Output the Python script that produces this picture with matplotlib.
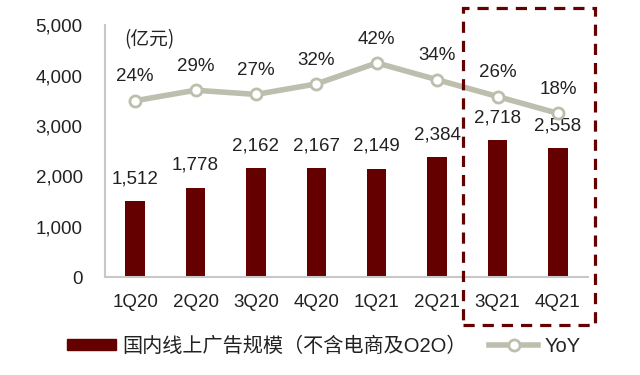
import matplotlib
matplotlib.use("Agg")
import matplotlib.pyplot as plt
from matplotlib.patches import Rectangle
from matplotlib.lines import Line2D
from matplotlib.patches import Patch

plt.rcParams['font.family'] = ['Liberation Sans', 'Noto Sans CJK SC', 'DejaVu Sans']

categories = ["1Q20", "2Q20", "3Q20", "4Q20", "1Q21", "2Q21", "3Q21", "4Q21"]
ad_scale = [1512, 1778, 2162, 2167, 2149, 2384, 2718, 2558]
yoy = [24, 29, 27, 32, 42, 34, 26, 18]
bar_label = "国内线上广告规模（不含电商及O2O）"
line_label = "YoY"
unit_text = "(亿元)"

bar_color = "#640000"
line_color = "#BEBEAE"
fs = 13.5

fig = plt.figure(figsize=(6.4, 3.75), dpi=100)
ax = fig.add_axes([0.164, 0.261, 0.755, 0.672])
x = list(range(len(categories)))
ax.bar(x, ad_scale, width=0.32, color=bar_color, zorder=2)
ax.set_xlim(-0.5, 7.5)
ax.set_ylim(0, 5000)
ax.set_yticks([0, 1000, 2000, 3000, 4000, 5000])
ax.set_yticklabels([f"{v:,}" for v in [0, 1000, 2000, 3000, 4000, 5000]])
ax.set_xticks(x)
ax.set_xticklabels(categories)
ax.tick_params(axis='both', length=0, labelsize=fs, colors='#222222')
ax.tick_params(axis='y', pad=16)
ax.tick_params(axis='x', pad=12)
for s in ['top', 'right']:
    ax.spines[s].set_visible(False)
for s in ['left', 'bottom']:
    ax.spines[s].set_color('#C8C8C8')
    ax.spines[s].set_linewidth(1.5)
for xi, v in zip(x, ad_scale):
    ax.annotate(f"{v:,}", (xi, v), xytext=(0, 10), textcoords='offset points',
                ha='center', va='bottom', fontsize=fs, color='#222222')
ax.text(0.04, 0.985, unit_text, transform=ax.transAxes, fontsize=fs,
        ha='left', va='top', color='#222222',
        family=['Noto Sans CJK SC', 'DejaVu Sans'])

ax2 = ax.twinx()
ax2.set_ylim(-60, 60)
ax2.axis('off')
ax2.plot(x, yoy, color=line_color, linewidth=4, marker='o', markersize=8,
         markerfacecolor='white', markeredgecolor=line_color, markeredgewidth=2, zorder=3)
for xi, v in zip(x, yoy):
    ax2.annotate(f"{v}%", (xi, v), xytext=(0, 11), textcoords='offset points',
                 ha='center', va='bottom', fontsize=fs, color='#222222')

rect = Rectangle((0.7234, 0.1333), 0.206, 0.845, transform=fig.transFigure,
                 fill=False, edgecolor=bar_color, linewidth=2.3,
                 linestyle=(0, (3.5, 2.5)), clip_on=False)
fig.add_artist(rect)

handles = [Patch(color=bar_color),
           Line2D([0], [0], color=line_color, linewidth=4, marker='o', markersize=8,
                  markerfacecolor='white', markeredgecolor=line_color, markeredgewidth=2)]
fig.legend(handles, [bar_label, line_label], loc='center', bbox_to_anchor=(0.506, 0.077),
           ncol=2, frameon=False, fontsize=14.5, handlelength=2.45, handleheight=0.5,
           columnspacing=1.1, handletextpad=0.3, labelcolor='#222222')

fig.savefig("out.png", dpi=100)
